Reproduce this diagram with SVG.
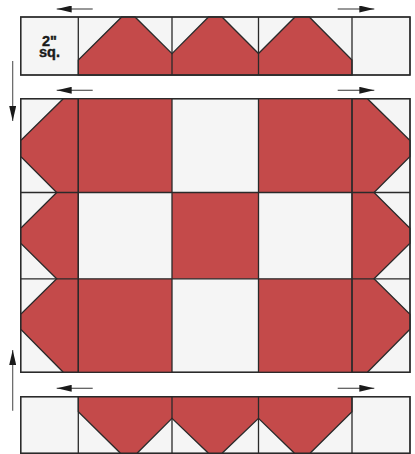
<svg xmlns="http://www.w3.org/2000/svg" width="415" height="454" viewBox="0 0 415 454">
<style>
.w{fill:#f5f5f5;stroke:#2a2a2a;stroke-width:1.3}
.r{fill:#c44a4a;stroke:#2a2a2a;stroke-width:1.3;stroke-linejoin:miter}
.rc{fill:#c44a4a}
.ln{fill:none;stroke:#2a2a2a;stroke-width:1.3}
.ar{fill:none;stroke:#333;stroke-width:1.1}
.vr{fill:none;stroke:#555;stroke-width:1.1}
.t{font-family:"Liberation Sans",Arial,sans-serif;font-weight:bold;font-size:14.5px;fill:#1a1a1a;text-anchor:middle;stroke:#1a1a1a;stroke-width:0.4}
</style>
<defs>
<marker id="ah" viewBox="0 0 15 7" refX="15" refY="3.5" markerWidth="15" markerHeight="7" markerUnits="userSpaceOnUse" orient="auto">
<path d="M0,0 L15,3.5 L0,7 Z" fill="#1a1a1a"/>
</marker>
</defs>

<g id="top-strip">
<rect class="w" x="20.7" y="17" width="389.3" height="58"/>
<polygon class="r" points="78.3,75 78.3,60 121.7,17 135,17 172,53.7 208.5,17 222,17 258.5,53.5 295,17 309.3,17 352,60 352,75"/>
<path class="ln" d="M78.3,17V75M172,17V75M258.5,17V75M352,17V75"/>
<rect x="20.7" y="17" width="389.3" height="58" fill="none" stroke="#2a2a2a" stroke-width="1.3"/>
<text class="t" x="49.5" y="46"><tspan x="49.5" y="46">2"</tspan><tspan x="49.5" y="57">sq.</tspan></text>
</g>

<g id="main-block">
<rect class="w" x="20.7" y="98.7" width="389.3" height="273.6"/>
<rect class="rc" x="78.3" y="98.7" width="93.7" height="93.8"/>
<rect class="rc" x="258.5" y="98.7" width="93.5" height="93.8"/>
<rect class="rc" x="172" y="192.5" width="86.5" height="86.3"/>
<rect class="rc" x="78.3" y="278.8" width="93.7" height="93.5"/>
<rect class="rc" x="258.5" y="278.8" width="93.5" height="93.5"/>
<polygon class="r" points="78.3,98.7 63.3,98.7 20.7,140.5 20.7,156.5 56.7,192.5 20.7,228.3 20.7,243.3 56.7,278.8 20.7,314.3 20.7,329.3 63.3,372.3 78.3,372.3"/>
<polygon class="r" points="352,98.7 367.4,98.7 410,140.5 410,156.5 374,192.5 410,228.3 410,243.3 374,278.8 410,314.3 410,329.3 367.4,372.3 352,372.3"/>
<path class="ln" d="M78.3,98.7V372.3M172,98.7V372.3M258.5,98.7V372.3M352,98.7V372.3M20.7,192.5H410M20.7,278.8H410"/>
<rect x="20.7" y="98.7" width="389.3" height="273.6" fill="none" stroke="#2a2a2a" stroke-width="1.3"/>
</g>

<g id="bottom-strip">
<rect class="w" x="20.7" y="396.7" width="389.3" height="56.6"/>
<polygon class="r" points="78.3,396.7 78.3,411.7 120.5,453.3 137,453.3 172,418.3 208.5,453.3 222,453.3 258.5,418.3 294.5,453.3 310,453.3 352,411.7 352,396.7"/>
<path class="ln" d="M78.3,396.7V453.3M172,396.7V453.3M258.5,396.7V453.3M352,396.7V453.3"/>
<rect x="20.7" y="396.7" width="389.3" height="56.6" fill="none" stroke="#2a2a2a" stroke-width="1.3"/>
</g>

<g id="connectors">
<line class="ar" x1="92.7" y1="9" x2="56.7" y2="9" marker-end="url(#ah)"/>
<line class="ar" x1="337.7" y1="9" x2="374.3" y2="9" marker-end="url(#ah)"/>
<line class="ar" x1="92.7" y1="90.3" x2="56.7" y2="90.3" marker-end="url(#ah)"/>
<line class="ar" x1="337.7" y1="90.3" x2="374.3" y2="90.3" marker-end="url(#ah)"/>
<line class="ar" x1="92.7" y1="388.3" x2="56.7" y2="388.3" marker-end="url(#ah)"/>
<line class="ar" x1="337.7" y1="388.3" x2="374.3" y2="388.3" marker-end="url(#ah)"/>
<line class="vr" x1="12.7" y1="61" x2="12.7" y2="121" marker-end="url(#ah)"/>
<line class="vr" x1="12.7" y1="410.7" x2="12.7" y2="350" marker-end="url(#ah)"/>
</g>
</svg>
